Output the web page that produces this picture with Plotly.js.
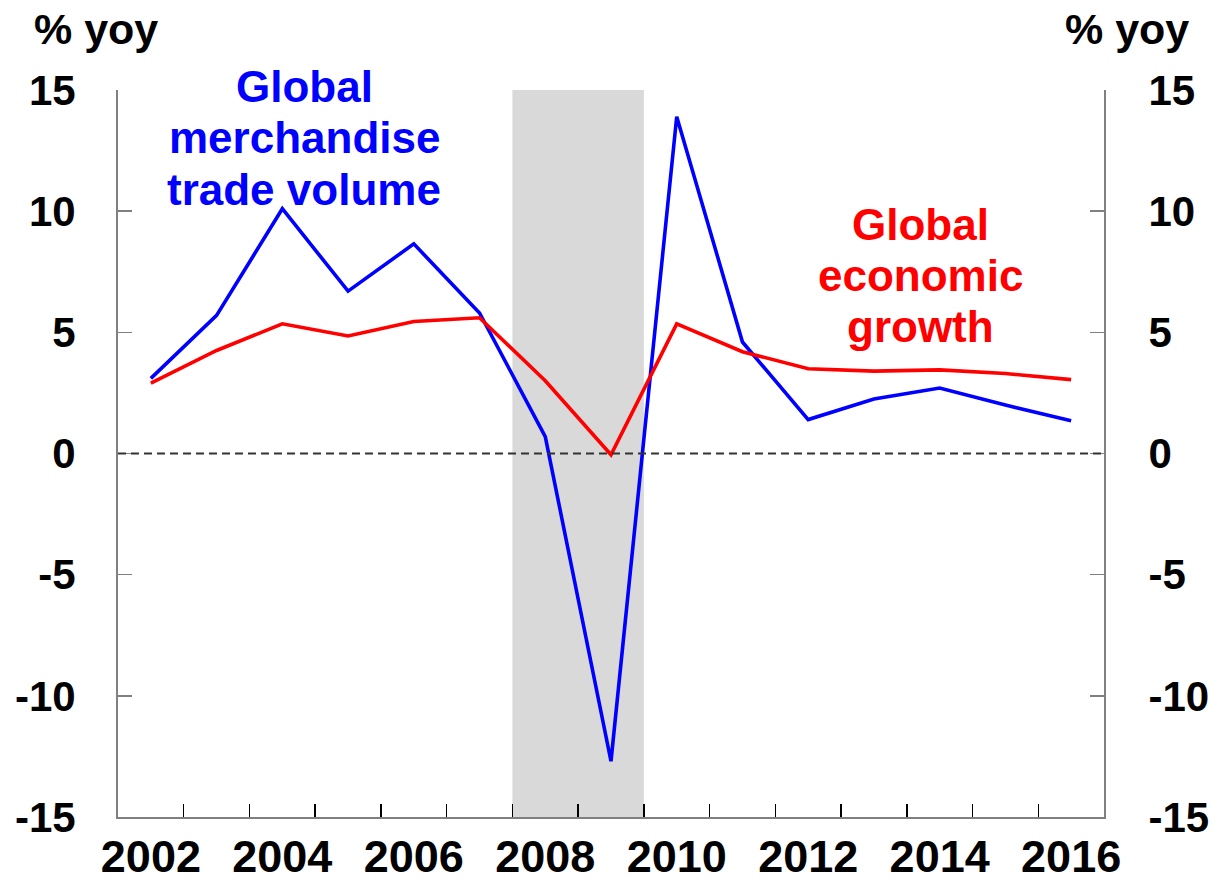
<!DOCTYPE html>
<html>
<head>
<meta charset="utf-8">
<script src="https://cdn.plot.ly/plotly-3.0.1.min.js"></script>
<style>html,body{margin:0;padding:0;background:#fff;}#chart{width:1213px;height:890px;}</style>
</head>
<body>
<div id="chart"></div>
<script>
// ---- data ----
const years = [2002,2003,2004,2005,2006,2007,2008,2009,2010,2011,2012,2013,2014,2015,2016];
const tradeVolume = [3.1,5.7,10.1,6.7,8.65,5.8,0.7,-12.7,13.9,4.6,1.4,2.25,2.7,2.0,1.35];
const economicGrowth = [2.9,4.25,5.35,4.85,5.45,5.6,3.0,-0.05,5.35,4.2,3.5,3.4,3.45,3.3,3.05];
const tickYears = [2002,2004,2006,2008,2010,2012,2014,2016];
const tickLabels = ["2002","2004","2006","2008","2010","2012","2014","2016"];
const recession = [2008, 2010];
const yTicks = [-15,-10,-5,0,5,10,15];
const yTickLabels = ["-15","-10","-5","0","5","10","15"];

// ---- layout helpers ----
const W = 1213, H = 890;
const L = 117.5, R = 1104.5, T = 90, B = 817;
const px = x => (x - L) / (R - L);
const py = y => (B - y) / (B - T);
const F = "Liberation Sans, Arial, sans-serif";

const xMid = years.map(y => y + 0.5);
const boundaryTicks = years.slice(1);

const traces = [
  {x: xMid, y: tradeVolume, type: 'scatter', mode: 'lines', line: {color: '#0000FF', width: 3.6}, xaxis: 'x', yaxis: 'y', hoverinfo: 'skip', showlegend: false},
  {x: xMid, y: economicGrowth, type: 'scatter', mode: 'lines', line: {color: '#FF0000', width: 3.6}, xaxis: 'x', yaxis: 'y', hoverinfo: 'skip', showlegend: false},
  {x: [2002], y: [0], type: 'scatter', mode: 'none', xaxis: 'x2', yaxis: 'y2', hoverinfo: 'skip', showlegend: false}
];

const tickFont = {family: F, size: 42, color: '#000', weight: 'bold'};

const ann = (text, x, y, color, size) => ({
  text: '<b>' + text + '</b>', xref: 'paper', yref: 'paper', x: px(x), y: py(y),
  xanchor: 'center', yanchor: 'middle', showarrow: false,
  font: {family: F, size: size, color: color}
});

const layout = {
  width: W, height: H,
  margin: {l: L, r: W - R, t: T, b: H - B, pad: 0},
  paper_bgcolor: '#fff', plot_bgcolor: 'rgba(0,0,0,0)',
  showlegend: false,
  xaxis: {
    range: [2002, 2017], tickmode: 'array', tickvals: boundaryTicks, ticktext: boundaryTicks.map(() => ''),
    ticks: 'inside', ticklen: 13, tickwidth: 1.5, tickcolor: '#000',
    showticklabels: false, showgrid: false, zeroline: false,
    showline: true, linecolor: '#808080', linewidth: 2, fixedrange: true
  },
  xaxis2: {
    overlaying: 'x', side: 'bottom', range: [2002, 2017], tickmode: 'array',
    tickvals: tickYears.map(y => y + 0.5), ticktext: tickLabels,
    ticks: '', showgrid: false, zeroline: false, showline: false,
    tickfont: {family: F, size: 45, color: '#000', weight: 'bold'},
    ticklabelstandoff: 9, fixedrange: true
  },
  yaxis: {
    range: [-15, 15], tickmode: 'array', tickvals: yTicks, ticktext: yTickLabels,
    ticks: 'inside', ticklen: 14, tickwidth: 1.5, tickcolor: '#808080',
    showgrid: false, zeroline: false, showline: true, linecolor: '#808080', linewidth: 2,
    tickfont: tickFont, ticklabelstandoff: 32, fixedrange: true
  },
  yaxis2: {
    overlaying: 'y', side: 'right', range: [-15, 15], tickmode: 'array', tickvals: yTicks, ticktext: yTickLabels,
    ticks: 'inside', ticklen: 14, tickwidth: 1.5, tickcolor: '#808080',
    showgrid: false, zeroline: false, showline: true, linecolor: '#808080', linewidth: 2,
    tickfont: tickFont, ticklabelstandoff: 34, fixedrange: true
  },
  shapes: [
    {type: 'rect', xref: 'x', yref: 'paper', x0: recession[0], x1: recession[1], y0: 0, y1: 1,
     fillcolor: '#D9D9D9', line: {width: 0}, layer: 'below'},
    {type: 'line', xref: 'paper', yref: 'y', x0: 0, x1: 1, y0: 0, y1: 0,
     line: {color: '#333333', width: 2, dash: '8px,5px'}, layer: 'above'}
  ],
  annotations: [
    ann('% yoy', 95.5, 29, '#000', 43),
    ann('% yoy', 1127.5, 29, '#000', 43),
    ann('Global', 304, 87, '#0000FF', 44),
    ann('merchandise', 304, 138, '#0000FF', 44),
    ann('trade volume', 304, 189, '#0000FF', 44),
    ann('Global', 921, 224, '#FF0000', 44),
    ann('economic', 921, 275, '#FF0000', 44),
    ann('growth', 921, 326, '#FF0000', 44)
  ]
};

Plotly.newPlot('chart', traces, layout, {displayModeBar: false, staticPlot: true});
</script>
</body>
</html>
